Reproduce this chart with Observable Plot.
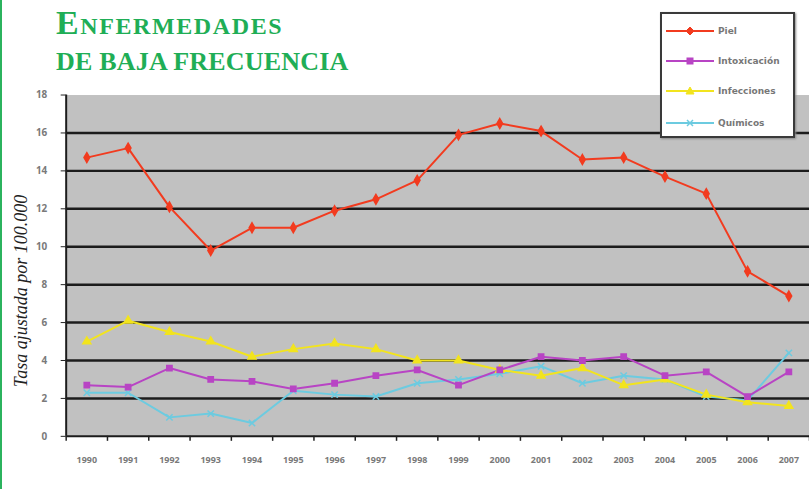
<!DOCTYPE html>
<html><head><meta charset="utf-8">
<script src="https://cdn.jsdelivr.net/npm/d3@7"></script>
<script src="https://cdn.jsdelivr.net/npm/@observablehq/plot@0.6"></script>
<style>
html,body{margin:0;padding:0;background:#fff;overflow:hidden;}
#wrap{position:relative;width:809px;height:489px;overflow:hidden;background:#fff;}
#chart{position:absolute;left:0;top:0;}
#border{position:absolute;left:0;top:0;width:2px;height:489px;background:#2bb35e;}
.title{position:absolute;left:56px;color:#1fae56;font-family:"Liberation Serif",serif;font-weight:bold;white-space:nowrap;line-height:1;}
#t1{top:6px;font-size:34px;letter-spacing:1.6px;font-variant:small-caps;}
#t2{top:49px;font-size:26px;letter-spacing:0.2px;text-transform:uppercase;}
#ylab{position:absolute;left:21px;top:291px;transform:translate(-50%,-50%) rotate(-90deg);font-family:"Liberation Serif",serif;font-style:italic;font-size:18px;color:#222;white-space:nowrap;}
#legend{position:absolute;left:660px;top:12px;width:131px;height:122px;background:#fff;border:2px solid #3a3a3a;box-shadow:1px 1px 2px #888;font-family:"DejaVu Sans",sans-serif;font-size:9px;font-weight:bold;color:#777;}
.lr{position:absolute;left:4px;height:14px;display:flex;align-items:center;}
.lr svg{margin-right:4px;}
</style></head>
<body>
<div id="wrap">
  <div id="chart"></div>
  <div id="border"></div>
  <div class="title" id="t1">Enfermedades</div>
  <div class="title" id="t2">de baja frecuencia</div>
  <div id="ylab">Tasa ajustada por 100.000</div>
  <div id="legend"></div>
</div>
<script>
const years = [1990,1991,1992,1993,1994,1995,1996,1997,1998,1999,2000,2001,2002,2003,2004,2005,2006,2007];
const seriesNames = ["Piel","Intoxicación","Infecciones","Químicos"];
const piel  = [14.7,15.2,12.1,9.8,11.0,11.0,11.9,12.5,13.5,15.9,16.5,16.1,14.6,14.7,13.7,12.8,8.7,7.4];
const intox = [2.7,2.6,3.6,3.0,2.9,2.5,2.8,3.2,3.5,2.7,3.5,4.2,4.0,4.2,3.2,3.4,2.1,3.4];
const infec = [5.0,6.1,5.5,5.0,4.2,4.6,4.9,4.6,4.0,4.0,3.5,3.2,3.6,2.7,3.0,2.2,1.8,1.6];
const quim  = [2.3,2.3,1.0,1.2,0.7,2.4,2.2,2.1,2.8,3.0,3.3,3.7,2.8,3.2,3.0,2.1,1.9,4.4];
const yTicks = [0,2,4,6,8,10,12,14,16,18];
const gridTicks = [2,4,6,8,10,12,14,16];

const colors = ["#f23b1f","#b844c4","#f2e41e","#6ccbe0"];
const symbols = ["diamond","square","triangle","times"];

const valuesBySeries = [piel, intox, infec, quim];
const rows = [];
seriesNames.forEach((name, s) => years.forEach((yr, i) => rows.push({year: yr, value: valuesBySeries[s][i], serie: name})));
const drawOrder = ["Químicos","Infecciones","Intoxicación","Piel"];
const boundaries = years.map(y => y - 0.5).concat([years[years.length-1] + 0.5]);

const chart = Plot.plot({
  width: 813, height: 489,
  marginLeft: 66, marginRight: 0, marginTop: 95, marginBottom: 51,
  style: {background: "transparent", overflow: "visible"},
  x: {domain: [years[0] - 0.5, years[years.length-1] + 0.5]},
  y: {domain: [0, 18]},
  color: {domain: seriesNames, range: colors},
  symbol: {domain: seriesNames, range: symbols},
  marks: [
    Plot.frame({fill: "#c1c1c1", stroke: null}),
    Plot.ruleY(gridTicks, {stroke: "#1c1c1c", strokeWidth: 2.5}),
    Plot.ruleY([0], {stroke: "#1c1c1c", strokeWidth: 2}),
    Plot.ruleX([years[0] - 0.5], {stroke: "#1c1c1c", strokeWidth: 2}),
    Plot.axisY({ticks: yTicks, tickSize: 5, tickPadding: 14, fontSize: 10, fontWeight: "bold", fill: "#7a7a7a", stroke: "#222", label: null}),
    Plot.axisX({ticks: boundaries, tickSize: 5, tickFormat: () => "", stroke: "#222", strokeWidth: 1.5, label: null}),
    Plot.axisX({ticks: years, tickSize: 0, tickPadding: 20, tickFormat: d => String(d), fontSize: 9, fontWeight: "bold", fill: "#7a7a7a", label: null}),
    ...drawOrder.map(name => Plot.line(rows.filter(r => r.serie === name), {x: "year", y: "value", stroke: "serie", strokeWidth: 2})),
    ...drawOrder.map(name => Plot.dot(rows.filter(r => r.serie === name), {x: "year", y: "value", fill: "serie", stroke: "serie", symbol: "serie", r: 3, strokeWidth: 1.5}))
  ]
});
document.getElementById("chart").appendChild(chart);

// legend
const legend = document.getElementById("legend");
const shapes = {
  diamond: '<path d="M24,1 L28,5 L24,9 L20,5 Z" />',
  square: '<rect x="21" y="2" width="6" height="6" />',
  triangle: '<path d="M24,1 L28,8 L20,8 Z" />',
  times: '<path d="M21,2 L27,8 M27,2 L21,8" fill="none" stroke-width="1.5" />'
};
const rowTops = [10, 40, 70, 102];
seriesNames.forEach((name, i) => {
  const div = document.createElement("div");
  div.className = "lr";
  div.style.top = rowTops[i] + "px";
  div.innerHTML = `<svg width="48" height="10"><line x1="0" y1="5" x2="48" y2="5" stroke="${colors[i]}" stroke-width="2"/><g fill="${colors[i]}" stroke="${colors[i]}">${shapes[symbols[i]]}</g></svg><span>${name}</span>`;
  legend.appendChild(div);
});
</script>
</body></html>
